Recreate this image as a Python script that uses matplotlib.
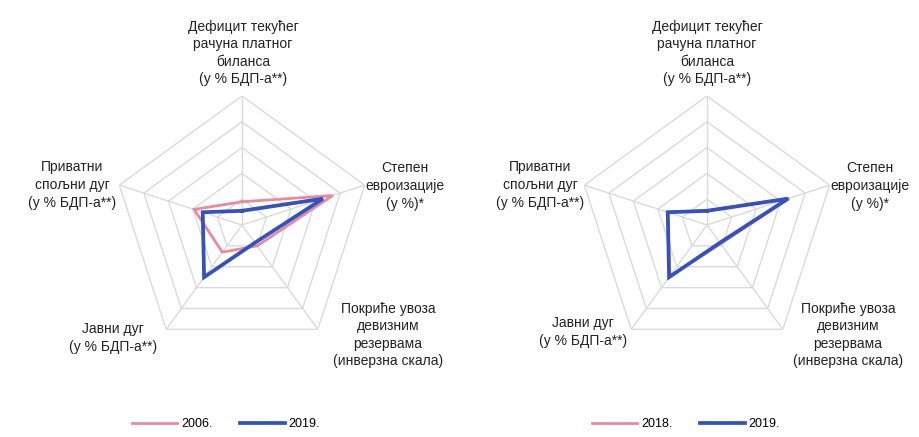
import numpy as np
import matplotlib
matplotlib.use('Agg')
import matplotlib.pyplot as plt

plt.rcParams['font.family'] = ['Liberation Sans', 'DejaVu Sans']

### Data (ring units, 0-5 scale)
categories = ['Дефицит текућег\nрачуна платног\nбиланса\n(у % БДП-а**)',
              'Степен\nевроизације\n(у %)*',
              'Покриће увоза\nдевизним\nрезервама\n(инверзна скала)',
              'Јавни дуг\n(у % БДП-а**)',
              'Приватни\nспољни дуг\n(у % БДП-а**)']
values_2006 = [0.9, 3.7, 1.0, 1.3, 1.95]
values_2018 = [0.55, 3.35, 0.9, 2.45, 1.6]
values_2019 = [0.55, 3.3, 0.85, 2.5, 1.6]
years_left = ['2006.', '2019.']
years_right = ['2018.', '2019.']

pink = '#E98A9C'
blue = '#3451C0'
grid_col = '#DADADA'

W, H = 920, 437
fig = plt.figure(figsize=(W / 100, H / 100), dpi=100)

n = len(categories)
theta = np.linspace(0, 2 * np.pi, n, endpoint=False)
theta_c = np.append(theta, theta[0])


def radar(cx, cy, R, series, colors, widths, labels, label_pos, leg_x):
    ax = fig.add_axes([(cx - R) / W, 1 - (cy + R) / H, 2 * R / W, 2 * R / H],
                      projection='polar')
    ax.set_theta_offset(np.pi / 2)
    ax.set_theta_direction(-1)
    ax.set_ylim(0, 5)
    ax.grid(False)
    ax.set_xticks([])
    ax.set_yticks([])
    ax.spines['polar'].set_visible(False)
    ax.patch.set_visible(False)

    # pentagon grid rings and spokes
    for r in range(1, 6):
        ax.plot(theta_c, [r] * (n + 1), color=grid_col, lw=1.0, zorder=1)
    for t in theta:
        ax.plot([t, t], [0, 5], color=grid_col, lw=1.0, zorder=1)

    handles = []
    for vals, c, w, lab in zip(series, colors, widths, labels):
        v = np.append(vals, vals[0])
        h, = ax.plot(theta_c, v, color=c, lw=w, label=lab, zorder=3,
                     solid_joinstyle='miter')
        handles.append(h)

    # category labels
    for txt, (x, y) in zip(categories, label_pos):
        fig.text(x / W, 1 - y / H, txt, ha='center', va='center',
                 fontsize=10, color='#222222', linespacing=1.32)

    fig.legend(handles=handles, loc='center', ncol=2, frameon=False,
               bbox_to_anchor=(leg_x / W, 1 - 424 / H), fontsize=9,
               handlelength=3.6, columnspacing=2.2, handletextpad=0.3)
    return ax


radar(242, 225, 129, [values_2006, values_2019], [pink, blue], [2.0, 2.7],
      years_left,
      [(243, 53), (405, 186), (388, 335), (113, 338), (72, 185)], 226)

radar(707, 225, 129, [values_2018, values_2019], [pink, blue], [2.0, 2.7],
      years_right,
      [(707, 53), (870, 186), (848, 335), (583, 332), (540, 185)], 686)

fig.savefig('out.png', dpi=100, facecolor='white')
